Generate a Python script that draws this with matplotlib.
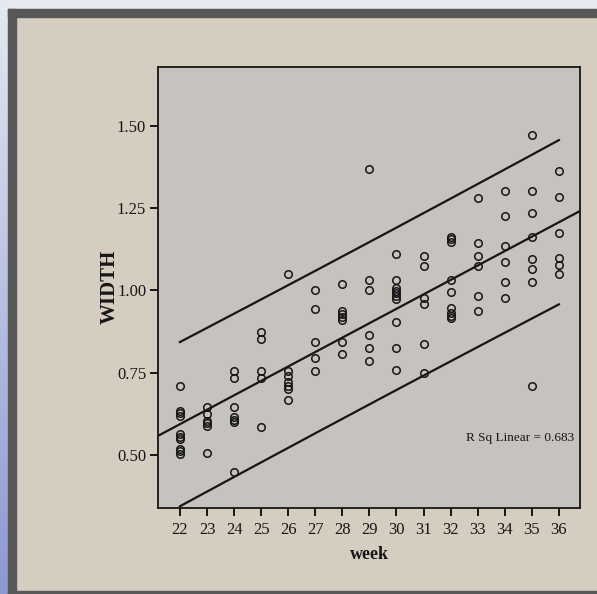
import numpy as np
import matplotlib
matplotlib.use("Agg")
import matplotlib.pyplot as plt
from matplotlib.patches import Rectangle
from matplotlib.colors import LinearSegmentedColormap
from matplotlib.ticker import FormatStrFormatter

# width readings per week
weeks = list(range(22, 37))
width_by_week = [
    [0.71, 0.634, 0.626, 0.619, 0.564, 0.554, 0.549, 0.519, 0.512, 0.504],   # 22
    [0.644, 0.624, 0.604, 0.596, 0.589, 0.505],                              # 23
    [0.755, 0.733, 0.644, 0.614, 0.606, 0.601, 0.448],                       # 24
    [0.874, 0.851, 0.755, 0.733, 0.586],                                     # 25
    [1.050, 0.755, 0.740, 0.722, 0.710, 0.700, 0.667],                       # 26
    [1.001, 0.942, 0.843, 0.794, 0.755],                                     # 27
    [1.020, 0.937, 0.927, 0.918, 0.911, 0.843, 0.806],                       # 28
    [1.368, 1.030, 1.001, 0.864, 0.824, 0.786],                              # 29
    [1.111, 1.032, 1.007, 0.999, 0.992, 0.982, 0.972, 0.904, 0.826, 0.757],  # 30
    [1.103, 1.073, 0.977, 0.957, 0.836, 0.748],                              # 31
    [1.163, 1.155, 1.147, 1.032, 0.995, 0.947, 0.931, 0.923, 0.915],         # 32
    [1.281, 1.143, 1.103, 1.073, 0.984, 0.937],                              # 33
    [1.302, 1.224, 1.135, 1.085, 1.025, 0.975],                              # 34
    [1.472, 1.302, 1.234, 1.163, 1.095, 1.064, 1.025, 0.710],                # 35
    [1.363, 1.284, 1.173, 1.098, 1.078, 1.048],                              # 36
]
y_ticks = [0.50, 0.75, 1.00, 1.25, 1.50]
r_sq_text = "R Sq Linear = 0.683"

x = np.concatenate([[w] * len(v) for w, v in zip(weeks, width_by_week)]).astype(float)
y = np.concatenate(width_by_week)

# linear fit + 95% prediction interval
n = len(x)
slope, intercept = np.polyfit(x, y, 1)
resid = y - (intercept + slope * x)
s = np.sqrt(np.sum(resid ** 2) / (n - 2))
sxx = np.sum((x - x.mean()) ** 2)
t_crit = 1.984  # t(0.975, df=n-2)

paper = "#d6cdc1"
plot_bg = "#c6c2bd"
ink = "#161616"

fig = plt.figure(figsize=(5.97, 5.94), dpi=100)
fig.patch.set_facecolor(paper)

# photo surroundings: light strips, dark frame
bg = fig.add_axes([0, 0, 1, 1], zorder=-1)
grad = np.linspace(0, 1, 100).reshape(-1, 1)
bg.imshow(grad, extent=(0, 8, 594, 0), aspect="auto",
          cmap=LinearSegmentedColormap.from_list("side", ["#e4e8f0", "#8c99d2"]))
bg.add_patch(Rectangle((0, 0), 597, 9, color="#e6e9f0"))
bg.add_patch(Rectangle((8, 9), 589, 8, color="#585858"))
bg.add_patch(Rectangle((8, 9), 8, 585, color="#585858"))
bg.add_patch(Rectangle((8, 591), 589, 3, color="#585858"))
bg.set_xlim(0, 597)
bg.set_ylim(594, 0)
bg.axis("off")

ax = fig.add_axes([0.2647, 0.1455, 0.7068, 0.7417])
ax.set_facecolor(plot_bg)

ax.plot(x, y, linestyle="none", marker="o", markersize=5.4, markerfacecolor="none",
        markeredgecolor=ink, markeredgewidth=1.1, zorder=3)

xlim = (21.19, 36.78)
xx = np.linspace(xlim[0], xlim[1], 200)
ax.plot(xx, intercept + slope * xx, color=ink, lw=1.6, zorder=2)

xp = np.linspace(22, 36, 200)
half = t_crit * s * np.sqrt(1 + 1 / n + (xp - x.mean()) ** 2 / sxx)
fit_p = intercept + slope * xp
ax.plot(xp, fit_p + half, color=ink, lw=1.6, zorder=2)
ax.plot(xp, fit_p - half, color=ink, lw=1.6, zorder=2)

ax.set_xlim(*xlim)
ax.set_ylim(0.34, 1.678)
ax.set_xticks(weeks)
ax.set_yticks(y_ticks)
ax.yaxis.set_major_formatter(FormatStrFormatter("%.2f"))

serif = "Liberation Serif"
for lab in ax.get_xticklabels() + ax.get_yticklabels():
    lab.set_fontfamily(serif)
    lab.set_fontsize(12)
    lab.set_color(ink)
ax.tick_params(axis="both", direction="out", length=5.5, width=1.4, color=ink)
ax.tick_params(axis="x", pad=5)
ax.tick_params(axis="y", pad=3)
for sp in ax.spines.values():
    sp.set_linewidth(1.3)
    sp.set_color(ink)

ax.set_xlabel("week", fontfamily=serif, fontsize=13, fontweight="bold", color=ink, labelpad=6)
ax.set_ylabel("WIDTH", fontfamily=serif, fontsize=15, fontweight="bold", color=ink, labelpad=-2)

ax.text(0.986, 0.157, r_sq_text, transform=ax.transAxes, ha="right", va="center",
        fontfamily=serif, fontsize=9.5, color=ink)

fig.savefig("out.png", dpi=100, facecolor=fig.get_facecolor())
